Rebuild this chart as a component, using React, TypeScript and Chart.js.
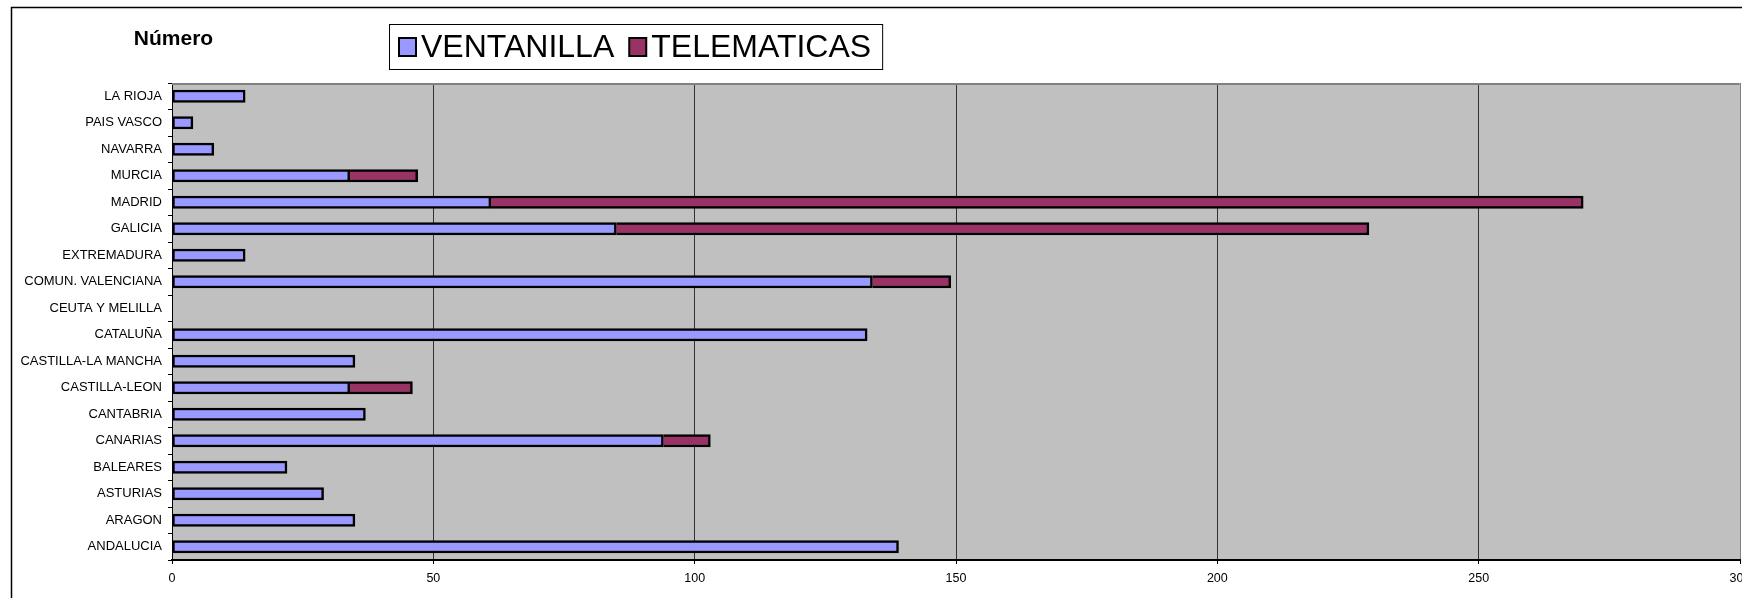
import React, { useEffect, useRef } from "react";
import { Chart, registerables } from "chart.js";

Chart.register(...registerables);

const categories = [
  "ANDALUCIA",
  "ARAGON",
  "ASTURIAS",
  "BALEARES",
  "CANARIAS",
  "CANTABRIA",
  "CASTILLA-LEON",
  "CASTILLA-LA MANCHA",
  "CATALUÑA",
  "CEUTA Y MELILLA",
  "COMUN. VALENCIANA",
  "EXTREMADURA",
  "GALICIA",
  "MADRID",
  "MURCIA",
  "NAVARRA",
  "PAIS VASCO",
  "LA RIOJA",
];
const ventanilla = [139, 35, 29, 22, 94, 37, 34, 35, 133, 0, 134, 14, 85, 61, 34, 8, 4, 14];
const telematicas = [0, 0, 0, 0, 9, 0, 12, 0, 0, 0, 15, 0, 144, 209, 13, 0, 0, 0];
const xTickValues = [0, 50, 100, 150, 200, 250, 300];
const seriesNames = ["VENTANILLA", "TELEMATICAS"];
const axisTitle = "Número";

const FONT = "'Liberation Sans', Arial, Helvetica, sans-serif";
const W = 1800;
const H = 640;
const PLOT_LEFT = 172;
const PLOT_TOP = 83;
const PLOT_RIGHT = 1740;
const PLOT_BOTTOM = 560;

const decor = {
  id: "decor",
  beforeDraw(chart: any) {
    const { ctx, chartArea: a } = chart;
    ctx.save();
    ctx.fillStyle = "#ffffff";
    ctx.fillRect(0, 0, chart.width, chart.height);
    ctx.fillStyle = "#C0C0C0";
    ctx.fillRect(a.left, a.top, a.right - a.left, a.bottom - a.top);
    ctx.strokeStyle = "#000";
    ctx.lineWidth = 1.5;
    ctx.strokeRect(11.5, 7.5, chart.width + 100, chart.height + 100);
    ctx.restore();
  },
  beforeDatasetsDraw(chart: any) {
    const { ctx, chartArea: a } = chart;
    ctx.save();
    ctx.strokeStyle = "#808080";
    ctx.lineWidth = 2;
    ctx.beginPath();
    ctx.moveTo(a.left, a.top + 1);
    ctx.lineTo(a.right - 0.5, a.top + 1);
    ctx.stroke();
    ctx.restore();
  },
  afterDraw(chart: any) {
    const { ctx } = chart;
    ctx.save();
    // axis title
    ctx.fillStyle = "#000";
    ctx.font = `bold 21px ${FONT}`;
    ctx.textAlign = "center";
    ctx.textBaseline = "middle";
    ctx.fillText(axisTitle, 173.5, 39);

    // legend
    ctx.font = `32px ${FONT}`;
    ctx.textAlign = "left";
    const cy = 47;
    let x = 399;
    const sw = 17;
    const sh = 18;
    chart.data.datasets.forEach((ds: any, i: number) => {
      ctx.fillStyle = ds.backgroundColor;
      ctx.fillRect(x, cy - sh / 2, sw, sh);
      ctx.strokeStyle = "#000";
      ctx.lineWidth = 2;
      ctx.strokeRect(x, cy - sh / 2, sw, sh);
      x += sw + 5;
      ctx.fillStyle = "#000";
      ctx.fillText(ds.label, x, cy + 1);
      x += ctx.measureText(ds.label).width;
      if (i < chart.data.datasets.length - 1) x += 15;
    });
    ctx.strokeStyle = "#000";
    ctx.lineWidth = 1;
    ctx.strokeRect(389.5, 24.5, x + 11 - 389, 45);
    ctx.restore();
  },
};

export default function App() {
  const ref = useRef<HTMLCanvasElement | null>(null);

  useEffect(() => {
    if (!ref.current) return;
    const chart = new Chart(ref.current, {
      type: "bar",
      data: {
        labels: categories,
        datasets: [
          {
            label: seriesNames[0],
            data: ventanilla,
            backgroundColor: "#9999FF",
            borderColor: "#000",
            borderWidth: 2.5,
            borderSkipped: false,
            barThickness: 12.5,
          },
          {
            label: seriesNames[1],
            data: telematicas,
            backgroundColor: "#993366",
            borderColor: "#000",
            borderWidth: 2.5,
            borderSkipped: "left",
            barThickness: 12.5,
          },
        ],
      },
      options: {
        indexAxis: "y",
        animation: false,
        responsive: false,
        maintainAspectRatio: false,
        devicePixelRatio: 1,
        layout: {
          padding: { top: PLOT_TOP, left: 0, right: W - PLOT_RIGHT, bottom: 0 },
        },
        plugins: {
          legend: { display: false },
          title: { display: false },
          tooltip: { enabled: false },
        },
        scales: {
          x: {
            type: "linear",
            stacked: true,
            min: 0,
            max: 300,
            position: "bottom",
            afterBuildTicks: (s: any) => {
              s.ticks = xTickValues.map((v) => ({ value: v }));
            },
            afterFit: (s: any) => {
              s.height = H - PLOT_BOTTOM;
            },
            grid: {
              color: (c: any) => (c.tick && c.tick.value === 300 ? "#808080" : "#333333"),
              lineWidth: 1,
              drawTicks: true,
              tickLength: 4,
              tickColor: "#000",
            },
            border: { display: true, color: "#000", width: 2 },
            ticks: {
              color: "#000",
              font: { family: FONT, size: 12.5 },
              padding: 7,
              maxRotation: 0,
              autoSkip: false,
            },
          },
          y: {
            type: "category",
            stacked: true,
            reverse: true,
            afterFit: (s: any) => {
              s.width = PLOT_LEFT;
            },
            grid: {
              drawOnChartArea: false,
              drawTicks: true,
              tickLength: 4,
              color: "#000",
              offset: true,
            },
            border: { display: true, color: "#000", width: 1 },
            ticks: {
              color: "#000",
              font: { family: FONT, size: 13 },
              padding: 6,
              autoSkip: false,
            },
          },
        },
      },
      plugins: [decor],
    } as any);
    return () => chart.destroy();
  }, []);

  return (
    <div
      style={{
        position: "fixed",
        left: 0,
        top: 0,
        width: 1742,
        height: 598,
        overflow: "hidden",
        background: "#fff",
      }}
    >
      <canvas ref={ref} width={W} height={H} style={{ display: "block", width: W, height: H }} />
    </div>
  );
}
